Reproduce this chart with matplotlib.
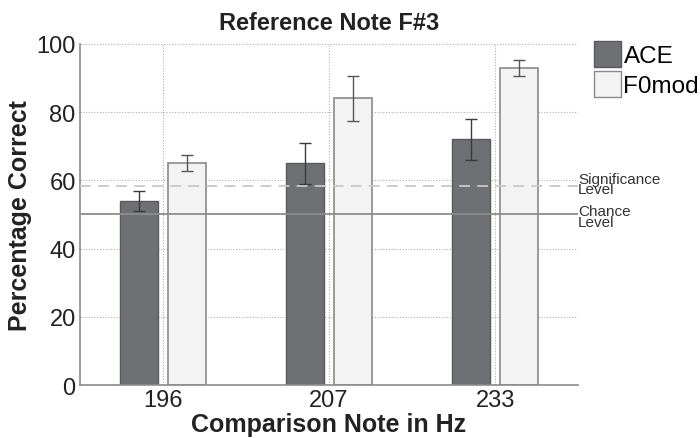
import matplotlib
matplotlib.use("Agg")
import matplotlib.pyplot as plt
import numpy as np
from matplotlib.patches import Patch

plt.rcParams['font.family'] = ['Liberation Sans', 'DejaVu Sans']

categories = ['196', '207', '233']
ace = [54, 65, 72]
ace_err = [3, 6, 6]
f0mod = [65, 84, 93]
f0mod_err = [2.3, 6.6, 2.4]
significance = 58.4
chance = 50
yticks = [0, 20, 40, 60, 80, 100]

fig = plt.figure(figsize=(7, 4.39), dpi=100)
ax = fig.add_axes([0.114, 0.1207, 0.712, 0.777])

x = np.arange(1, len(categories) + 1)
w = 0.23
off = 0.145
ace_c = '#6f7074'
f0_c = '#f2f3f2'

ax.set_axisbelow(True)
ax.grid(True, linestyle=(0, (1, 1.5)), color='#b0b0b0', linewidth=0.8)

ax.bar(x - off, ace, w, color=ace_c, edgecolor='#5a5a5e', linewidth=1.0, zorder=2)
ax.bar(x + off, f0mod, w, color=f0_c, edgecolor='#8a8a8a', linewidth=1.2, zorder=2)
ax.errorbar(x - off, ace, yerr=ace_err, fmt='none', ecolor='#3a3a3a', elinewidth=1.0, capsize=4, capthick=1.0, zorder=3)
ax.errorbar(x + off, f0mod, yerr=f0mod_err, fmt='none', ecolor='#555555', elinewidth=1.0, capsize=4, capthick=1.0, zorder=3)

ax.axhline(significance, color='#c8c8c8', linestyle=(0, (6, 4)), linewidth=1.3, zorder=4)
ax.axhline(chance, color='#8c8c8c', linestyle='-', linewidth=1.3, zorder=4)

ax.set_xlim(0.5, 3.5)
ax.set_ylim(0, 100)
ax.set_xticks(x)
ax.set_xticklabels(categories)
ax.set_yticks(yticks)
ax.tick_params(axis='both', length=0, labelsize=17, colors='#222222', pad=3)

for s in ['top', 'right']:
    ax.spines[s].set_visible(False)
for s in ['left', 'bottom']:
    ax.spines[s].set_color('#8c8c8c')
    ax.spines[s].set_linewidth(1.2)

ax.set_title('Reference Note F#3', fontsize=17, fontweight='bold', color='#222222', pad=11)
ax.set_xlabel('Comparison Note in Hz', fontsize=18, fontweight='bold', color='#222222', labelpad=0.5)
ax.set_ylabel('Percentage Correct', fontsize=18, fontweight='bold', color='#222222', labelpad=3)

ax.text(1.0, significance + 0.5, 'Significance\nLevel', transform=ax.get_yaxis_transform(),
        fontsize=11, color='#333333', va='center', ha='left', linespacing=0.7)
ax.text(1.0, chance - 0.5, 'Chance\nLevel', transform=ax.get_yaxis_transform(),
        fontsize=11, color='#333333', va='center', ha='left', linespacing=0.7)

handles = [Patch(facecolor=ace_c, edgecolor='#5a5a5e', label='ACE'),
           Patch(facecolor=f0_c, edgecolor='#8a8a8a', label='F0mod')]
fig.legend(handles=handles, loc='upper left', bbox_to_anchor=(0.849, 0.905), frameon=False,
           fontsize=17.5, handlelength=1.1, handleheight=1.3, handletextpad=0.1, labelspacing=0.15,
           borderaxespad=0, borderpad=0)

fig.savefig('out.png', dpi=100)
